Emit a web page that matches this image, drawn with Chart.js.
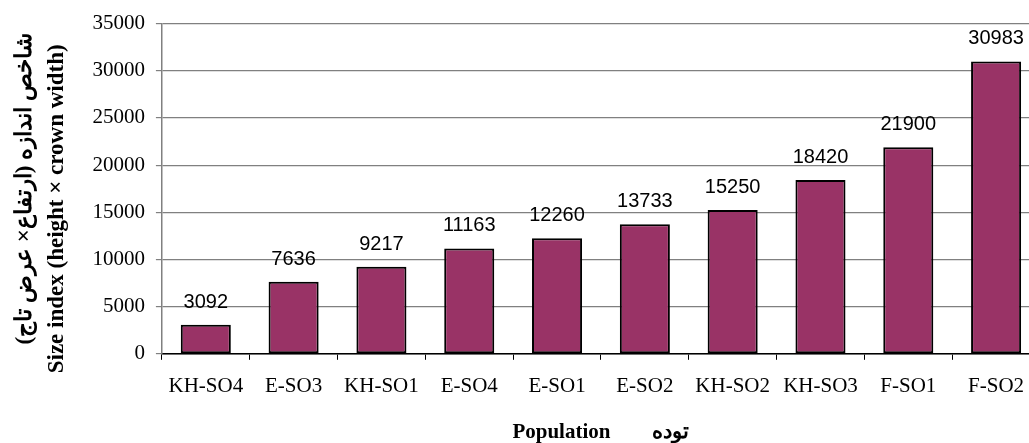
<!DOCTYPE html>
<html>
<head>
<meta charset="utf-8">
<script src="https://cdn.jsdelivr.net/npm/chart.js@4"></script>
<style>
  html, body { margin: 0; padding: 0; background: #fff; overflow: hidden; }
  #wrap { width: 1029px; height: 443px; overflow: hidden; }
  #inner { width: 1040px; height: 443px; }
</style>
</head>
<body>
<div id="wrap"><div id="inner"><canvas id="myChartSize"></canvas></div></div>
<script>
// Data
const populations = ["KH-SO4", "E-SO3", "KH-SO1", "E-SO4", "E-SO1", "E-SO2", "KH-SO2", "KH-SO3", "F-SO1", "F-SO2"];
const sizeIndex = [3092, 7636, 9217, 11163, 12260, 13733, 15250, 18420, 21900, 30983];
const yTitle = ["شاخص اندازه (ارتفاع× عرض تاج)", "Size index (height × crown width)       "];
const xTitle = "Population        توده";

// Value labels above the bars
const barLabels = {
  id: "barLabels",
  afterDatasetsDraw(chart) {
    const ctx = chart.ctx;
    ctx.save();
    ctx.font = "20px 'Liberation Sans', Arial, sans-serif";
    ctx.fillStyle = "#000";
    ctx.textAlign = "center";
    ctx.textBaseline = "alphabetic";
    chart.getDatasetMeta(0).data.forEach((bar, i) => {
      ctx.fillText(sizeIndex[i], bar.x, bar.y - 17);
    });
    ctx.restore();
  },
};

const serif = "'Liberation Serif', 'Times New Roman', serif";

const ctx = document.getElementById("myChartSize").getContext("2d");
new Chart(ctx, {
  type: "bar",
  data: {
    labels: populations,
    datasets: [
      {
        label: "Size index",
        data: sizeIndex,
        backgroundColor: "#993366",
        borderColor: "#000",
        borderWidth: 2,
        borderSkipped: false,
        categoryPercentage: 1.0,
        barPercentage: 0.57,
      },
    ],
  },
  plugins: [barLabels],
  options: {
    responsive: true,
    maintainAspectRatio: false,
    animation: false,
    layout: { padding: { top: 22, right: 0, left: 0, bottom: 0 } },
    plugins: {
      legend: { display: false },
      tooltip: { enabled: false },
    },
    scales: {
      x: {
        grid: {
          offset: true,
          drawOnChartArea: false,
          drawTicks: true,
          tickLength: 6,
          color: "#000",
        },
        border: { color: "#000", width: 1.5 },
        ticks: {
          color: "#000",
          font: { family: serif, size: 21 },
          padding: 14,
          maxRotation: 0,
        },
        title: {
          display: true,
          text: xTitle,
          color: "#000",
          font: { family: serif, size: 21, weight: "bold", lineHeight: 1.0 },
          padding: { top: 9, bottom: 0 },
        },
      },
      y: {
        min: 0,
        max: 35000,
        grid: {
          color: "#808080",
          lineWidth: 1.2,
          tickLength: 6,
        },
        border: { color: "#808080", width: 1.5 },
        ticks: {
          stepSize: 5000,
          color: "#000",
          font: { family: serif, size: 21 },
          padding: 11,
          callback: (value) => String(value),
        },
        title: {
          display: true,
          text: yTitle,
          color: "#000",
          font: { family: serif, size: 23, weight: "bold", lineHeight: 1.4 },
          padding: { top: 9, bottom: 8 },
        },
      },
    },
  },
});
</script>
</body>
</html>
